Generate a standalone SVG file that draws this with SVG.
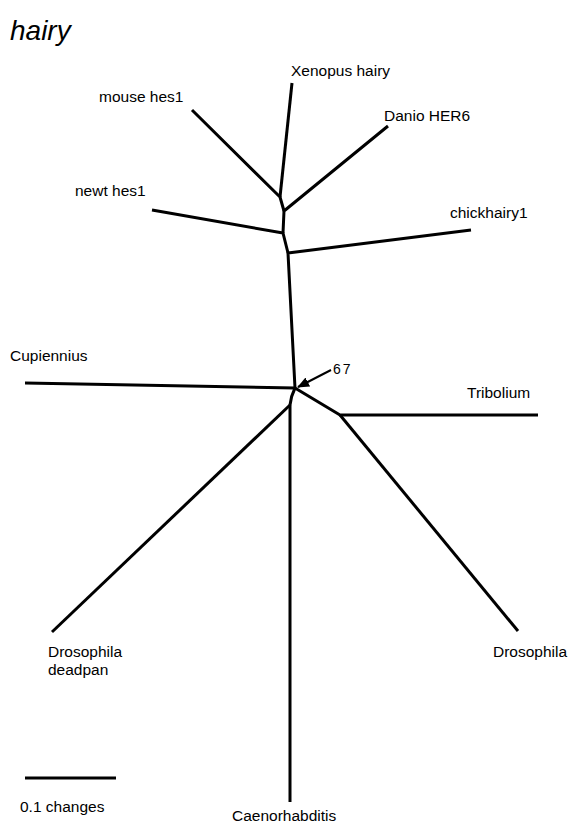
<svg xmlns="http://www.w3.org/2000/svg" width="579" height="827" viewBox="0 0 579 827">
<defs>
<style>
.lbl{font-family:"Liberation Sans",Arial,sans-serif;font-size:15.5px;fill:#000}
.br{fill:none;stroke:#000;stroke-width:3;stroke-linejoin:round;stroke-linecap:butt}
.title{font-family:"Liberation Sans",Arial,sans-serif;font-size:28px;font-style:italic;fill:#000}
</style>
<marker id="ah" viewBox="0 0 12 10" refX="11" refY="5" markerWidth="6" markerHeight="5" orient="auto" markerUnits="strokeWidth">
<path d="M0,0 L12,5 L0,10 z" fill="#000"/>
</marker>
</defs>
<rect width="579" height="827" fill="#fff"/>
<text class="title" x="10" y="40">hairy</text>
<g id="connectors">
<polyline class="br" points="292,83 280,197"/>
<polyline class="br" points="192,110 280,197 284,211"/>
<polyline class="br" points="388,126 284,211 283,233"/>
<polyline class="br" points="152,210 283,233 288,253"/>
<polyline class="br" points="471,230 288,253 295,388"/>
<polyline class="br" points="25,383 295,388"/>
<polyline class="br" points="295,388 340,415 538,415"/>
<polyline class="br" points="340,415 518,631"/>
<path class="br" d="M295,388 Q291,396 290,405"/>
<polyline class="br" points="290,405 52,632"/>
<polyline class="br" points="290,405 290,802"/>
<line x1="331" y1="370" x2="298" y2="387" stroke="#000" stroke-width="2" marker-end="url(#ah)"/>
</g>
<g id="n-xenopus"><text class="lbl" x="291" y="76">Xenopus hairy</text></g>
<g id="n-mouse"><text class="lbl" x="99" y="102">mouse hes1</text></g>
<g id="n-danio"><text class="lbl" x="384" y="121">Danio HER6</text></g>
<g id="n-newt"><text class="lbl" x="75" y="196">newt hes1</text></g>
<g id="n-chick"><text class="lbl" x="450" y="218">chickhairy1</text></g>
<g id="n-cupiennius"><text class="lbl" x="10" y="361">Cupiennius</text></g>
<g id="n-tribolium"><text class="lbl" x="467" y="398">Tribolium</text></g>
<g id="n-bootstrap"><text class="lbl" x="333" y="374" style="font-size:14px;letter-spacing:2px">67</text></g>
<g id="n-drosophila"><text class="lbl" x="493" y="657">Drosophila</text></g>
<g id="n-deadpan"><text class="lbl" x="48" y="657">Drosophila</text><text class="lbl" x="48" y="675">deadpan</text></g>
<g id="n-caeno"><text class="lbl" x="232" y="821">Caenorhabditis</text></g>
<g id="scale"><line x1="25" y1="778" x2="116" y2="778" stroke="#000" stroke-width="3"/><text class="lbl" x="20" y="812">0.1 changes</text></g>
</svg>
